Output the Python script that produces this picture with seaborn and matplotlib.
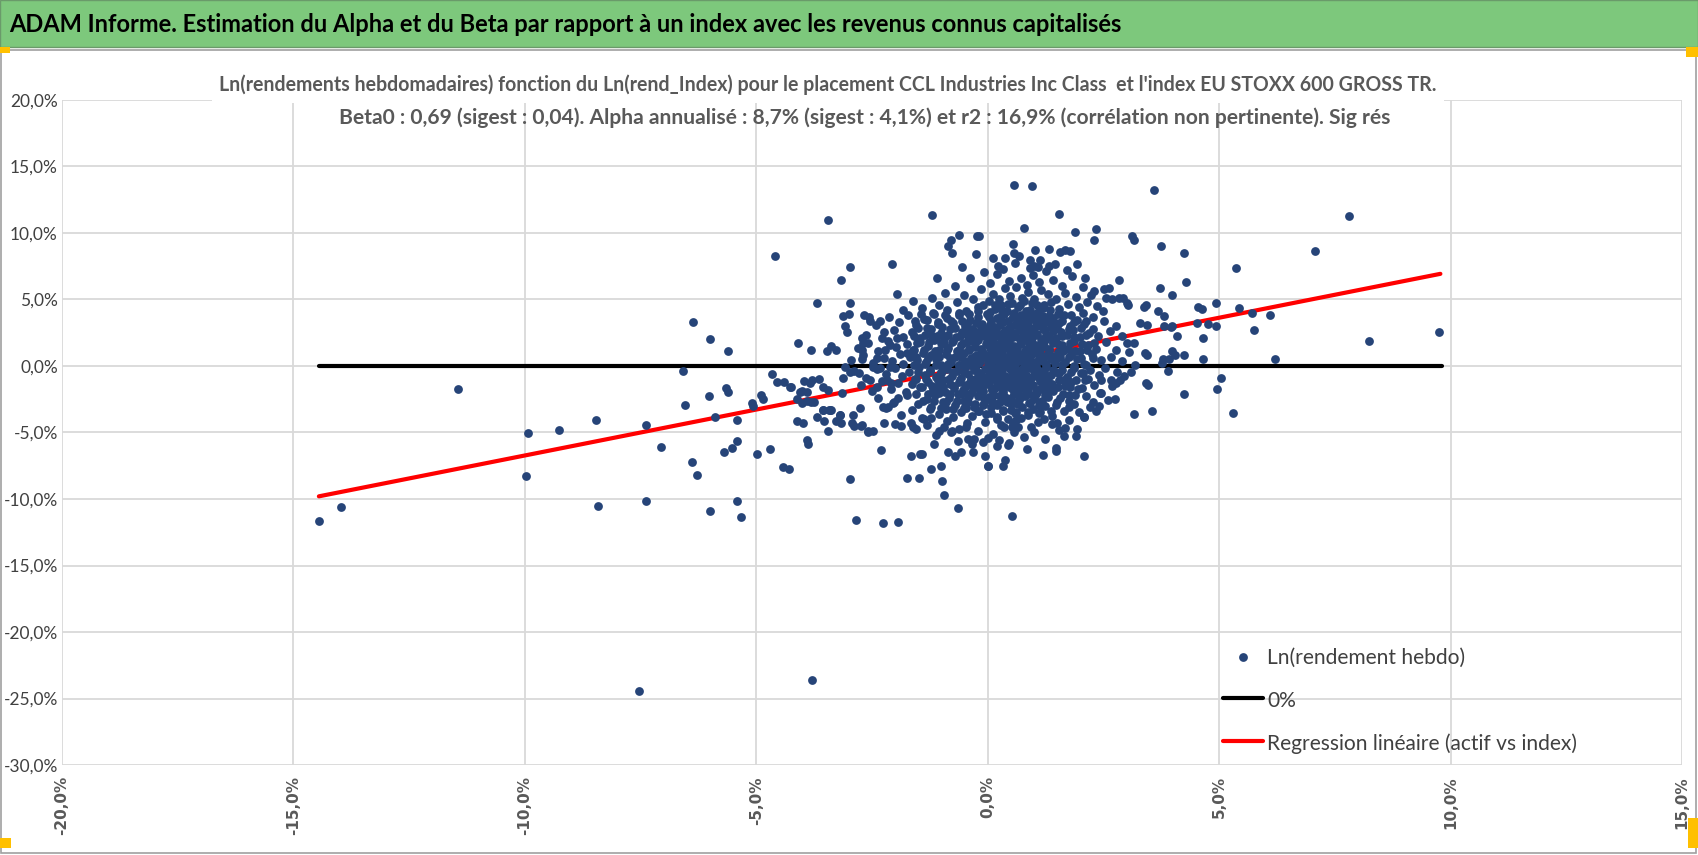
import numpy as np
import pandas as pd
import seaborn as sns
import matplotlib
matplotlib.use("Agg")
import matplotlib.pyplot as plt
from matplotlib.patches import Rectangle
from matplotlib.ticker import FuncFormatter, MultipleLocator

# weekly log returns, index (x, %) vs asset (y, %)
left_tail = [
    (-14.45, -11.66), (-13.98, -10.6), (-11.45, -1.76), (-9.94, -5.03), (-9.98, -8.29),
    (-9.27, -4.8), (-8.47, -4.07), (-8.42, -10.5), (-7.38, -4.4), (-7.05, -6.06),
    (-7.38, -10.18), (-7.54, -24.4), (-6.58, -0.38), (-6.36, 3.29), (-6.01, 2.04),
    (-5.61, 1.1), (-6.53, -2.91), (-6.03, -2.29), (-5.66, -1.63), (-5.61, -1.96),
    (-5.9, -3.84), (-5.42, -4.05), (-6.38, -7.24), (-6.29, -8.17), (-5.7, -6.48),
    (-5.53, -6.16), (-5.42, -5.63), (-6.01, -10.9), (-5.42, -10.15), (-5.32, -11.33),
    (-5.1, -2.79), (-5.08, -3.04), (-4.9, -2.16), (-4.85, -2.51), (-4.99, -6.58),
    (-4.71, -6.26), (-4.66, -0.58), (-4.55, -1.2), (-4.4, -1.21), (-4.25, -1.61),
    (-4.12, -2.49), (-4.02, -1.88), (-4.02, -2.76), (-3.91, -1.98), (-3.91, -2.64),
    (-3.81, -2.69), (-3.79, -1.06), (-3.64, -1.0), (-3.96, -1.1), (-3.85, -1.31),
    (-4.12, -4.12), (-4.0, -4.25), (-3.69, -3.82), (-3.55, -3.32), (-3.53, -4.12),
    (-3.43, -3.32), (-3.39, -3.32), (-3.27, -4.12), (-3.19, -3.69), (-3.17, -4.25),
    (-3.44, -4.87), (-3.91, -5.58), (-3.88, -5.83), (-4.43, -7.59), (-4.3, -7.71),
    (-4.1, 1.76), (-3.82, 1.23), (-3.48, 1.13), (-3.39, 1.53), (-3.27, 1.23),
    (-3.15, -2.05), (-3.12, -0.93), (-2.97, -0.43), (-2.79, -0.55), (-3.08, -0.05),
    (-3.44, -1.8), (-3.55, -1.55), (-3.41, -3.3), (-3.56, -3.3), (-4.05, -1.93),
    (-3.76, -2.68), (-4.27, -1.55), (-2.76, -3.18), (-2.9, -3.68), (-3.19, -3.68),
    (-2.94, -4.3), (-2.72, -4.43), (-2.58, -4.93),
]

upper_tail = [
    (-3.46, 11.0), (-4.59, 8.29), (-1.2, 11.33), (-0.63, 9.87), (-0.8, 9.5),
    (-0.85, 9.0), (-0.78, 8.5), (-0.24, 9.75), (-2.07, 7.66), (-2.97, 7.44),
    (-3.16, 6.48), (-3.69, 4.7), (-2.97, 4.7), (-3.13, 3.74), (-2.99, 3.94),
    (-3.09, 3.04), (-3.05, 2.59), (-2.68, 3.87), (-2.57, 3.67), (-2.55, 3.37),
    (-2.32, 3.37), (-2.25, 2.59), (0.57, 13.64), (0.95, 13.57), (3.59, 13.24),
    (1.54, 11.46), (0.79, 10.38), (1.88, 10.08), (2.35, 10.3), (2.3, 9.45),
    (3.12, 9.75), (3.16, 9.45), (3.75, 9.02), (4.25, 8.49), (5.36, 7.34),
    (0.54, 9.15), (0.57, 8.49), (1.02, 8.74), (1.33, 8.79), (1.57, 8.54),
    (1.67, 8.69), (1.78, 8.62), (0.38, 8.09), (0.22, 7.54), (0.91, 7.99),
    (1.12, 7.99), (1.01, 7.54), (1.09, 7.44), (1.33, 7.54), (1.93, 7.66),
    (-0.18, 9.8), (7.81, 11.26), (7.08, 8.61),
]

lower_tail = [
    (-2.98, -8.47), (-2.84, -11.6), (-2.26, -11.8), (-1.94, -11.73), (-2.3, -6.33),
    (-1.74, -8.44), (-1.48, -8.44), (-1.66, -6.76), (-1.47, -6.63), (-1.41, -6.58),
    (-1.22, -7.71), (-1.01, -7.51), (-0.98, -8.67), (-0.95, -9.7), (-0.65, -10.65),
    (-1.16, -5.83), (-0.86, -6.46), (-0.7, -6.78), (-0.57, -6.46), (-0.32, -6.46),
    (-0.06, -6.78), (0.0, -7.51), (-0.42, -5.5), (-0.3, -5.5), (-0.11, -5.75),
    (0.0, -5.4), (-2.59, -4.87), (-2.47, -4.87), (-2.89, -4.5), (-2.73, -4.5),
    (-2.24, -4.25), (-2.0, -4.37), (-1.87, -4.5), (-1.66, -4.32), (-1.61, -4.57),
    (-1.54, -4.77), (-1.38, -4.02), (-1.23, -3.94), (-1.05, -4.87), (-0.95, -4.57),
    (-0.78, -4.87), (-0.63, -4.75), (-0.47, -4.57), (0.53, -11.3), (1.19, -6.66),
    (1.47, -6.13), (1.47, -6.41), (2.07, -6.76), (0.01, -7.49), (0.34, -7.49),
    (0.38, -7.09), (0.43, -5.93), (0.24, -5.53), (0.56, -4.95), (0.66, -4.57),
    (0.36, -4.57), (0.54, -4.32), (1.64, -5.23), (1.67, -4.65), (1.9, -5.3),
    (1.93, -4.77), (1.49, -4.27), (1.75, -4.05), (-3.8, -23.6),
]

right_tail = [
    (2.07, -3.82), (2.21, -3.12), (2.33, -3.37), (2.4, -3.02), (2.76, -2.46),
    (3.16, -3.62), (3.54, -3.42), (4.25, -2.14), (4.96, -1.73), (5.03, -0.88),
    (5.29, -3.52), (3.43, -1.26), (3.46, -1.46), (2.83, 5.15), (2.92, 5.1),
    (3.02, 4.7), (3.04, 4.55), (3.37, 4.47), (3.41, 4.57), (3.68, 4.17),
    (3.8, 3.77), (3.99, 3.04), (4.08, 2.29), (3.81, 2.99), (4.55, 4.45),
    (4.63, 4.3), (4.93, 4.72), (4.76, 3.14), (4.93, 3.04), (4.52, 3.27),
    (4.65, 2.09), (4.65, 0.5), (5.43, 4.35), (3.3, 3.22), (3.45, 3.12),
    (4.05, 0.83), (3.98, 1.16), (3.92, 0.5), (3.78, 0.5), (3.77, 0.25),
    (3.9, -0.35), (4.25, 0.8), (3.4, 0.95), (3.45, 0.85), (3.17, 1.76),
    (3.01, 1.76), (3.09, -0.45), (3.18, 0.1), (4.29, 6.3), (3.72, 5.85),
    (3.99, 5.35), (2.11, 6.6), (2.83, 6.48), (2.29, 5.67), (2.51, 5.79),
    (2.62, 5.89), (2.56, 5.14), (2.68, 5.04), (5.7, 3.95), (6.1, 3.85),
    (3.96, 2.92), (5.75, 2.7), (6.21, 0.5), (2.68, -1.49), (2.78, -1.31),
    (2.85, -1.08), (2.44, -1.06), (2.42, -2.02), (2.08, -3.83), (9.75, 2.59),
    (8.24, 1.86),
]

core_upper = [
    (-1.42, 4.35), (-1.21, 5.12), (-1.05, 4.62), (-0.93, 5.48), (-0.88, 4.18),
    (-0.71, 6.05), (-0.66, 4.84), (-0.52, 5.31), (-0.47, 4.12), (-0.38, 6.62),
    (-0.31, 5.02), (-0.22, 4.46), (-0.15, 5.78), (-0.08, 7.05), (0.02, 4.88),
    (0.06, 6.21), (0.11, 5.42), (0.15, 4.31), (0.19, 6.94), (0.24, 5.07),
    (0.28, 4.62), (0.33, 7.28), (0.37, 5.83), (0.41, 4.15), (0.45, 6.37),
    (0.49, 5.26), (0.53, 4.71), (0.58, 7.71), (0.62, 5.95), (0.66, 4.43),
    (0.71, 6.58), (0.75, 5.14), (0.79, 4.87), (0.84, 6.12), (0.88, 5.56),
    (0.92, 4.24), (0.97, 6.86), (1.01, 5.03), (1.06, 4.55), (1.11, 6.31),
    (1.15, 5.72), (1.2, 4.38), (1.26, 7.12), (1.31, 5.38), (1.37, 4.81),
    (1.42, 6.44), (1.48, 5.01), (1.55, 4.27), (1.61, 6.02), (1.68, 5.47),
    (1.74, 4.66), (1.82, 6.73), (1.9, 5.18), (1.97, 4.41), (2.05, 5.94),
    (2.14, 4.83), (2.23, 5.36), (-1.62, 4.92), (-1.83, 4.22), (-1.97, 5.45),
    (2.36, 4.52), (2.48, 4.11), (0.12, 8.12), (0.68, 8.28), (1.45, 7.68),
    (-0.55, 7.41), (-1.1, 6.58), (-0.26, 8.42), (0.91, 7.38), (1.72, 7.25),
]

core_high = [
    (-2.62, 2.35), (-2.41, 3.12), (-2.28, 2.08), (-2.14, 3.66), (-2.02, 2.71),
    (-1.91, 3.28), (-1.83, 2.21), (-1.72, 3.81), (-1.64, 2.56), (-1.55, 3.05),
    (-1.46, 2.12), (-1.38, 3.54), (-1.31, 2.84), (-1.22, 2.33), (-1.15, 3.92),
    (-1.08, 3.17), (-1.01, 2.48), (-0.94, 2.02), (-0.87, 3.61), (-0.81, 2.77),
    (-0.74, 3.24), (-0.68, 2.15), (-0.62, 3.83), (-0.56, 2.58), (-0.5, 3.02),
    (-0.44, 2.36), (-0.39, 3.47), (-0.33, 2.81), (-0.28, 2.05), (-0.22, 3.71),
    (-0.17, 2.52), (-0.12, 3.18), (-0.07, 2.27), (-0.02, 3.88), (0.03, 2.66),
    (0.07, 3.35), (0.11, 2.11), (0.15, 2.94), (0.19, 3.62), (0.23, 2.43),
    (0.27, 3.09), (0.31, 2.18), (0.35, 3.94), (0.39, 2.71), (0.43, 3.38),
    (0.47, 2.26), (0.51, 2.97), (0.55, 3.69), (0.59, 2.49), (0.63, 3.15),
    (0.67, 2.07), (0.71, 3.82), (0.75, 2.62), (0.79, 3.27), (0.83, 2.34),
    (0.87, 3.03), (0.91, 3.57), (0.95, 2.19), (0.99, 2.84), (1.03, 3.46),
    (1.07, 2.41), (1.11, 3.11), (1.15, 2.03), (1.19, 3.76), (1.23, 2.67),
    (1.27, 3.31), (1.32, 2.28), (1.37, 2.92), (1.42, 3.58), (1.47, 2.14),
    (1.53, 3.22), (1.59, 2.55), (1.65, 3.87), (1.71, 2.31), (1.78, 3.04),
    (1.85, 2.72), (1.92, 3.49), (2.0, 2.17), (2.09, 3.13), (2.18, 2.46),
    (2.28, 3.71), (2.39, 2.28), (2.51, 3.36), (2.64, 2.61), (2.78, 3.02),
    (2.9, 2.24), (0.05, 2.45), (0.25, 3.52), (0.45, 2.86), (0.65, 3.55),
    (0.85, 2.58), (1.05, 2.98), (1.25, 2.36), (0.15, 2.28), (0.55, 2.15),
    (0.95, 3.92), (-0.15, 2.95), (-0.45, 3.15), (0.35, 2.55), (0.75, 2.98),
    (1.15, 3.45), (-2.72, 2.08), (-1.97, 2.08), (-2.11, 1.58),
]

core_mid_high = [
    (-2.95, 0.42), (-2.81, 1.35), (-2.7, 0.85), (-2.58, 1.72), (-2.47, 0.21),
    (-2.36, 1.12), (-2.25, 0.63), (-2.16, 1.88), (-2.07, 0.36), (-1.98, 1.41),
    (-1.9, 0.92), (-1.82, 0.14), (-1.74, 1.62), (-1.67, 0.71), (-1.6, 1.19),
    (-1.53, 0.45), (-1.46, 1.84), (-1.4, 0.97), (-1.34, 0.28), (-1.28, 1.47),
    (-1.22, 0.79), (-1.16, 1.95), (-1.11, 0.52), (-1.05, 1.24), (-1.0, 0.11),
    (-0.95, 1.66), (-0.9, 0.88), (-0.85, 1.38), (-0.8, 0.33), (-0.75, 1.91),
    (-0.7, 0.64), (-0.66, 1.15), (-0.61, 0.07), (-0.57, 1.58), (-0.52, 0.96),
    (-0.48, 0.41), (-0.44, 1.79), (-0.4, 1.27), (-0.36, 0.58), (-0.32, 0.16),
    (-0.28, 1.45), (-0.24, 0.83), (-0.2, 1.98), (-0.16, 0.37), (-0.12, 1.12),
    (-0.08, 0.69), (-0.04, 1.63), (0.0, 0.24), (0.04, 1.36), (0.08, 0.91),
    (0.12, 1.84), (0.16, 0.47), (0.2, 1.21), (0.24, 0.05), (0.28, 1.67),
    (0.32, 0.76), (0.36, 1.42), (0.4, 0.31), (0.44, 1.93), (0.48, 1.03),
    (0.52, 0.55), (0.56, 1.52), (0.6, 0.18), (0.64, 1.26), (0.68, 0.87),
    (0.72, 1.74), (0.76, 0.42), (0.8, 1.11), (0.84, 0.63), (0.88, 1.89),
    (0.92, 0.27), (0.96, 1.47), (1.0, 0.95), (1.04, 0.12), (1.08, 1.61),
    (1.12, 0.73), (1.16, 1.33), (1.2, 0.38), (1.24, 1.97), (1.28, 0.86),
    (1.32, 1.18), (1.36, 0.49), (1.41, 1.72), (1.46, 0.22), (1.51, 1.06),
    (1.56, 0.67), (1.61, 1.55), (1.67, 0.33), (1.73, 1.29), (1.79, 0.81),
    (1.86, 1.86), (1.93, 0.54), (2.0, 1.14), (2.08, 0.17), (2.16, 1.58),
    (2.25, 0.92), (2.34, 1.31), (2.44, 0.46), (2.55, 1.77), (2.66, 0.71),
    (2.78, 1.24), (2.91, 0.36), (3.05, 1.05), (0.02, 0.62), (0.14, 1.55),
    (0.26, 0.98), (0.38, 0.12), (0.5, 1.38), (0.62, 0.74), (0.74, 1.95),
    (0.86, 0.29), (0.98, 1.22), (1.1, 0.56), (1.22, 1.48), (-0.1, 0.95),
    (-0.22, 0.44), (-0.34, 1.88), (0.18, 0.7), (0.42, 1.6), (0.66, 0.4),
    (0.9, 1.7), (1.14, 0.9), (0.3, 1.9), (-2.69, 1.7), (-2.72, 1.2),
    (-2.72, 0.53), (-2.4, 0.58), (-2.22, 1.2), (-1.75, 0.95),
]

core_mid_low = [
    (-2.88, -0.35), (-2.74, -1.42), (-2.62, -0.88), (-2.51, -1.86), (-2.4, -0.22),
    (-2.29, -1.15), (-2.19, -0.61), (-2.1, -1.73), (-2.01, -0.14), (-1.93, -1.29),
    (-1.85, -0.77), (-1.77, -1.95), (-1.7, -0.48), (-1.63, -1.38), (-1.56, -0.95),
    (-1.49, -0.09), (-1.42, -1.61), (-1.36, -0.68), (-1.3, -1.22), (-1.24, -0.31),
    (-1.18, -1.83), (-1.12, -0.85), (-1.07, -1.47), (-1.02, -0.43), (-0.97, -1.08),
    (-0.92, -1.92), (-0.87, -0.19), (-0.82, -1.34), (-0.77, -0.72), (-0.72, -1.66),
    (-0.67, -0.38), (-0.63, -1.17), (-0.58, -0.91), (-0.54, -1.79), (-0.5, -0.06),
    (-0.46, -1.45), (-0.42, -0.62), (-0.38, -1.24), (-0.34, -1.98), (-0.3, -0.29),
    (-0.26, -0.94), (-0.22, -1.57), (-0.18, -0.53), (-0.14, -1.13), (-0.1, -1.86),
    (-0.06, -0.21), (-0.02, -0.81), (0.02, -1.39), (0.06, -0.47), (0.1, -1.72),
    (0.14, -0.15), (0.18, -1.06), (0.22, -0.68), (0.26, -1.51), (0.3, -0.33),
    (0.34, -1.93), (0.38, -0.87), (0.42, -1.28), (0.46, -0.11), (0.5, -1.64),
    (0.54, -0.56), (0.58, -1.19), (0.62, -0.25), (0.66, -1.83), (0.7, -0.74),
    (0.74, -1.37), (0.78, -0.41), (0.82, -1.02), (0.86, -1.69), (0.9, -0.18),
    (0.94, -0.93), (0.98, -1.46), (1.02, -0.59), (1.06, -1.97), (1.1, -0.36),
    (1.14, -1.12), (1.18, -0.82), (1.22, -1.58), (1.27, -0.08), (1.32, -1.31),
    (1.37, -0.66), (1.42, -1.88), (1.48, -0.44), (1.54, -1.05), (1.6, -0.27),
    (1.66, -1.54), (1.72, -0.79), (1.79, -1.21), (1.86, -0.12), (1.94, -1.76),
    (2.02, -0.51), (2.11, -1.09), (2.2, -0.3), (2.3, -1.45), (2.41, -0.69),
    (2.53, -0.16), (2.66, -1.02), (2.8, -0.43), (2.95, -0.74), (0.04, -0.95),
    (0.16, -1.62), (0.28, -0.58), (0.4, -1.48), (0.52, -0.88), (0.64, -1.55),
    (0.76, -0.12), (0.88, -1.3), (1.0, -0.7), (1.12, -1.7), (1.24, -0.95),
    (-0.08, -1.35), (-0.2, -0.75), (-0.32, -1.62), (0.1, -0.3), (0.34, -1.05),
    (0.58, -0.4), (0.82, -1.88), (1.06, -0.25), (0.46, -0.82), (-2.47, -0.05),
    (-2.33, -0.18), (-2.11, -0.05), (-2.54, -1.05), (-2.4, -1.55), (-2.18, -1.05),
    (-2.08, -1.3),
]

core_low = [
    (-2.38, -2.42), (-2.2, -3.15), (-2.03, -2.68), (-1.88, -3.72), (-1.75, -2.21),
    (-1.63, -3.34), (-1.51, -2.86), (-1.41, -3.91), (-1.31, -2.47), (-1.22, -3.08),
    (-1.13, -2.15), (-1.05, -3.61), (-0.97, -2.73), (-0.9, -3.27), (-0.83, -2.38),
    (-0.76, -3.85), (-0.7, -2.94), (-0.64, -2.12), (-0.58, -3.48), (-0.52, -2.61),
    (-0.46, -3.16), (-0.4, -2.29), (-0.34, -3.74), (-0.28, -2.83), (-0.22, -3.39),
    (-0.16, -2.07), (-0.1, -2.96), (-0.04, -3.58), (0.02, -2.45), (0.08, -3.12),
    (0.14, -2.19), (0.2, -3.81), (0.26, -2.7), (0.32, -3.28), (0.38, -2.36),
    (0.44, -3.95), (0.5, -2.88), (0.56, -2.11), (0.62, -3.44), (0.68, -2.57),
    (0.74, -3.06), (0.8, -2.24), (0.86, -3.67), (0.92, -2.79), (0.98, -3.22),
    (1.04, -2.14), (1.1, -3.53), (1.17, -2.66), (1.24, -3.01), (1.31, -2.31),
    (1.39, -3.77), (1.47, -2.92), (1.56, -2.4), (1.65, -3.36), (1.75, -2.17),
    (1.86, -2.83), (1.98, -3.49), (2.12, -2.29), (2.27, -2.71), (2.45, -2.05),
    (2.6, -2.58), (0.1, -2.6), (0.3, -2.05), (0.5, -3.3), (0.7, -2.35),
    (0.9, -2.1), (1.1, -2.9), (-0.1, -2.3), (-0.3, -3.05), (0.2, -2.95),
    (0.6, -2.75), (1.0, -2.45), (-0.5, -2.05), (-2.26, -3.05), (-2.15, -3.05),
    (-2.04, -2.8), (-1.93, -2.43),
]

core_bottom = [
    (-1.32, -4.45), (-1.12, -5.21), (-0.88, -4.14), (-0.64, -5.63), (-0.45, -4.31),
    (-0.22, -4.92), (-0.05, -4.18), (0.12, -5.08), (0.28, -4.41), (0.45, -5.77),
    (0.62, -4.06), (0.78, -5.34), (0.94, -4.62), (1.08, -4.19), (1.24, -5.51),
    (1.38, -4.33), (1.55, -4.84), (0.21, -6.02), (0.85, -6.21), (-0.35, -5.88),
    (1.0, -4.95), (0.52, -4.55), (-0.8, -4.95), (1.75, -3.05),
]

# the solid heart of the cloud
core_center = [
    (-0.25, 3.21), (0.05, 3.05), (0.32, 3.28), (0.6, 3.12), (0.88, 3.31), (1.18, 3.02),
    (1.38, 3.18), (-0.3, 2.62), (-0.05, 2.78), (0.18, 2.69), (0.41, 2.58), (0.69, 2.77),
    (0.93, 2.65), (1.2, 2.81), (1.41, 2.6), (-0.2, 2.18), (0.03, 2.31), (0.29, 2.12),
    (0.52, 2.27), (0.78, 2.2), (1.02, 2.35), (1.29, 2.15), (-0.27, 1.72), (-0.02, 1.78),
    (0.22, 1.65), (0.47, 1.81), (0.7, 1.62), (0.95, 1.77), (1.17, 1.68), (1.4, 1.82),
    (-0.15, 1.25), (0.1, 1.14), (0.34, 1.28), (0.58, 1.17), (0.82, 1.31), (1.05, 1.1),
    (1.33, 1.27), (-0.28, 0.72), (-0.03, 0.81), (0.21, 0.66), (0.45, 0.78), (0.71, 0.69),
    (0.93, 0.82), (1.19, 0.64), (1.39, 0.75), (-0.18, 0.22), (0.08, 0.15), (0.31, 0.28),
    (0.55, 0.09), (0.79, 0.24), (1.03, 0.31), (1.27, 0.13), (-0.25, -0.31), (0.01, -0.22),
    (0.25, -0.37), (0.49, -0.26), (0.73, -0.33), (0.97, -0.19), (1.21, -0.4), (1.42, -0.28),
    (-0.12, -0.78), (0.13, -0.86), (0.37, -0.73), (0.61, -0.91), (0.85, -0.77), (1.09, -0.85),
    (1.33, -0.72), (-0.29, -1.27), (-0.04, -1.35), (0.2, -1.22), (0.44, -1.38), (0.68, -1.25),
    (0.92, -1.31), (1.16, -1.21), (1.39, -1.36), (-0.16, -1.77), (0.09, -1.84), (0.33, -1.73),
    (0.57, -1.86), (0.81, -1.75), (1.05, -1.81), (1.29, -1.78), (-0.22, -2.28), (0.03, -2.35),
    (0.27, -2.22), (0.51, -2.37), (0.75, -2.26), (0.99, -2.31), (1.23, -2.2), (-0.08, -2.77),
    (0.18, -2.84), (0.42, -2.73), (0.66, -2.86), (0.9, -2.79), (1.14, -2.74),
]

# dark ring around the heart
core_ring = [
    (-1.45, 3.88), (-1.18, 3.95), (-0.92, 3.84), (-0.63, 3.98), (-0.41, 3.9),
    (-1.58, 3.36), (-1.31, 3.44), (-1.07, 3.33), (-0.8, 3.41), (-0.55, 3.35),
    (-1.5, 2.86), (-1.22, 2.79), (-0.98, 2.91), (-0.71, 2.82), (-0.46, 2.88),
    (-1.6, 2.27), (-1.35, 2.35), (-1.1, 2.24), (-0.86, 2.32), (-0.6, 2.26), (-0.38, 2.34),
    (-1.52, 1.73), (-1.26, 1.79), (-1.01, 1.71), (-0.77, 1.77), (-0.53, 1.7),
    (-1.62, 1.18), (-1.37, 1.24), (-1.13, 1.15), (-0.88, 1.22), (-0.63, 1.17), (-0.4, 1.23),
    (-1.55, 0.66), (-1.3, 0.61), (-1.05, 0.68), (-0.81, 0.6), (-0.57, 0.67),
    (-1.6, 0.08), (-1.36, 0.14), (-1.11, 0.06), (-0.86, 0.13), (-0.62, 0.04), (-0.39, 0.11),
    (-1.5, -0.46), (-1.25, -0.41), (-1.0, -0.49), (-0.76, -0.43), (-0.52, -0.48),
    (-1.58, -1.01), (-1.33, -0.96), (-1.08, -1.04), (-0.83, -0.98), (-0.6, -1.03), (-0.37, -0.97),
    (-1.46, -1.56), (-1.21, -1.51), (-0.97, -1.58), (-0.72, -1.53), (-0.48, -1.57),
    (-1.55, -2.08), (-1.3, -2.13), (-1.06, -2.06), (-0.81, -2.12), (-0.57, -2.07),
    (-1.4, -2.66), (-1.15, -2.62), (-0.9, -2.68), (-0.66, -2.63), (-0.42, -2.67),
    (-1.25, -3.21), (-1.0, -3.17), (-0.75, -3.23), (-0.51, -3.19),
    (1.52, 3.92), (1.79, 3.86), (2.05, 3.95), (1.6, 3.38), (1.86, 3.31), (2.12, 3.4),
    (1.49, 2.83), (1.75, 2.77), (2.01, 2.86), (2.27, 2.79), (1.6, 2.27), (1.86, 2.21),
    (2.12, 2.3), (1.51, 1.68), (1.77, 1.74), (2.03, 1.67), (2.29, 1.73), (1.62, 1.16),
    (1.88, 1.11), (2.14, 1.19), (1.5, 0.58), (1.76, 0.64), (2.02, 0.57), (2.28, 0.63),
    (1.61, 0.06), (1.87, 0.01), (2.13, 0.09), (1.53, -0.52), (1.79, -0.47), (2.05, -0.54),
    (1.64, -1.03), (1.9, -1.08), (2.16, -1.01), (1.52, -1.61), (1.78, -1.56), (2.04, -1.63),
    (1.63, -2.14), (1.89, -2.19), (1.5, -2.71), (1.76, -2.66),
    (-0.22, 4.12), (0.04, 4.05), (0.3, 4.18), (0.56, 4.02), (0.82, 4.15), (1.08, 4.08),
    (1.34, 4.2), (-0.1, 4.62), (0.16, 4.55), (0.43, 4.68), (0.69, 4.58), (0.95, 4.71),
    (1.21, 4.6), (0.02, 3.7), (0.28, 3.78), (0.54, 3.66), (0.8, 3.75), (1.06, 3.7),
    (1.32, 3.77), (-0.18, -3.42), (0.08, -3.51), (0.34, -3.38), (0.6, -3.55),
    (0.86, -3.43), (1.12, -3.48), (1.36, -3.36), (0.2, -3.95), (0.72, -3.9), (1.22, -3.98),
]

# straight lines as drawn on the chart (end points)
zero_x = [-14.45, 9.82]
zero_y = [0.0, 0.0]
reg_x = [-14.45, 9.78]
reg_y = [-9.8, 6.93]

main_title = ("ADAM Informe. Estimation du Alpha et du Beta par rapport à un index "
              "avec les revenus connus capitalisés")
title_line1 = ("Ln(rendements hebdomadaires) fonction du Ln(rend_Index) pour le placement "
               "CCL Industries Inc Class  et l'index EU STOXX 600 GROSS TR.")
title_line2 = ("Beta0 : 0,69 (sigest : 0,04). Alpha annualisé : 8,7% (sigest : 4,1%) "
               "et r2 : 16,9% (corrélation non pertinente). Sig rés")
label_pts = "Ln(rendement hebdo)"
label_zero = "0%"
label_reg = "Regression linéaire (actif vs index)"

pts = pd.DataFrame(left_tail + upper_tail + lower_tail + right_tail + core_upper
                   + core_high + core_mid_high + core_mid_low + core_low + core_bottom
                   + core_center + core_ring, columns=["x", "y"])

sns.set_theme(style="white")
plt.rcParams['font.family'] = ['Lato', 'DejaVu Sans']

W, H = 1698, 855
fig = plt.figure(figsize=(W / 100, H / 100), dpi=100)


def fit_width(txt, target_px):
    # scale a text so that its rendered width matches the reference
    r = fig.canvas.get_renderer()
    w = txt.get_window_extent(renderer=r).width
    txt.set_fontsize(txt.get_fontsize() * target_px / w)


# green banner + chart frame
fig.add_artist(Rectangle((0, 1 - 47 / H), 1, 47 / H, transform=fig.transFigure,
                         facecolor="#7DC87C", edgecolor="#6a9a6a", lw=1))
fig.add_artist(Rectangle((1 / W, 2 / H), 1 - 3 / W, 1 - 52 / H, transform=fig.transFigure,
                         facecolor="none", edgecolor="#A0A0A0", lw=1.2))
t_main = fig.text(9 / W, 1 - 24 / H, main_title, fontsize=18, fontweight="bold",
                  color="black", va="center", ha="left")
for (x0, y0, w, h) in [(0, 47, 10, 6), (1686, 47, 12, 10), (0, 838, 11, 10), (1688, 818, 10, 30)]:
    fig.add_artist(Rectangle((x0 / W, 1 - (y0 + h) / H), w / W, h / H,
                             transform=fig.transFigure, facecolor="#FFC000", edgecolor="none"))

ax = fig.add_axes([62 / W, 1 - 765 / H, 1620 / W, 665 / H])

sns.lineplot(x=zero_x, y=zero_y, ax=ax, color="black", linewidth=3, label=label_zero, zorder=2)
sns.lineplot(x=reg_x, y=reg_y, ax=ax, color="#FF0000", linewidth=3, label=label_reg, zorder=2)
sns.scatterplot(data=pts, x="x", y="y", ax=ax, color="#264478", s=40, linewidth=0,
                label=label_pts, zorder=3)

ax.set_xlim(-20, 15)
ax.set_ylim(-30, 20)
ax.xaxis.set_major_locator(MultipleLocator(5))
ax.yaxis.set_major_locator(MultipleLocator(5))
pct = FuncFormatter(lambda v, p: f"{v:.1f}%".replace(".", ","))
ax.xaxis.set_major_formatter(pct)
ax.yaxis.set_major_formatter(pct)
ax.grid(True, color="#D9D9D9", linewidth=1.3)
for s in ax.spines.values():
    s.set_visible(False)
ax.set_xlabel("")
ax.set_ylabel("")
ax.tick_params(axis="y", labelsize=12.5, labelcolor="#404040", pad=3, length=0)
ax.tick_params(axis="x", labelsize=11, labelcolor="#595959", pad=8, length=0)
for t in ax.get_xticklabels():
    t.set_rotation(90)
    t.set_family("DejaVu Sans")
    t.set_fontweight("bold")

# legend order: points, zero line, regression
h, l = ax.get_legend_handles_labels()
order = [l.index(label_pts), l.index(label_zero), l.index(label_reg)]
leg = ax.legend([h[i] for i in order], [l[i] for i in order], loc="upper left",
                bbox_to_anchor=(0.703, 0.212), frameon=False, fontsize=18,
                handlelength=1.6, handletextpad=0.15, labelspacing=0.85,
                markerscale=1.0)
for t in leg.get_texts():
    t.set_color("#404040")

t1 = fig.text(828 / W, 1 - 85 / H, title_line1, ha="center", va="center", fontsize=16,
              color="#595959", fontweight="bold",
              bbox=dict(facecolor="white", edgecolor="none", pad=6))
t2 = fig.text(865 / W, 1 - 118 / H, title_line2, ha="center", va="center", fontsize=16,
              color="#595959", fontweight="bold")

fig.canvas.draw()
fit_width(t_main, 1112)
fit_width(t1, 1220)
fit_width(t2, 1052)
fit_width(leg.get_texts()[2], 310)
for t in leg.get_texts()[:2]:
    t.set_fontsize(leg.get_texts()[2].get_fontsize())

fig.savefig("out.png", dpi=100)
